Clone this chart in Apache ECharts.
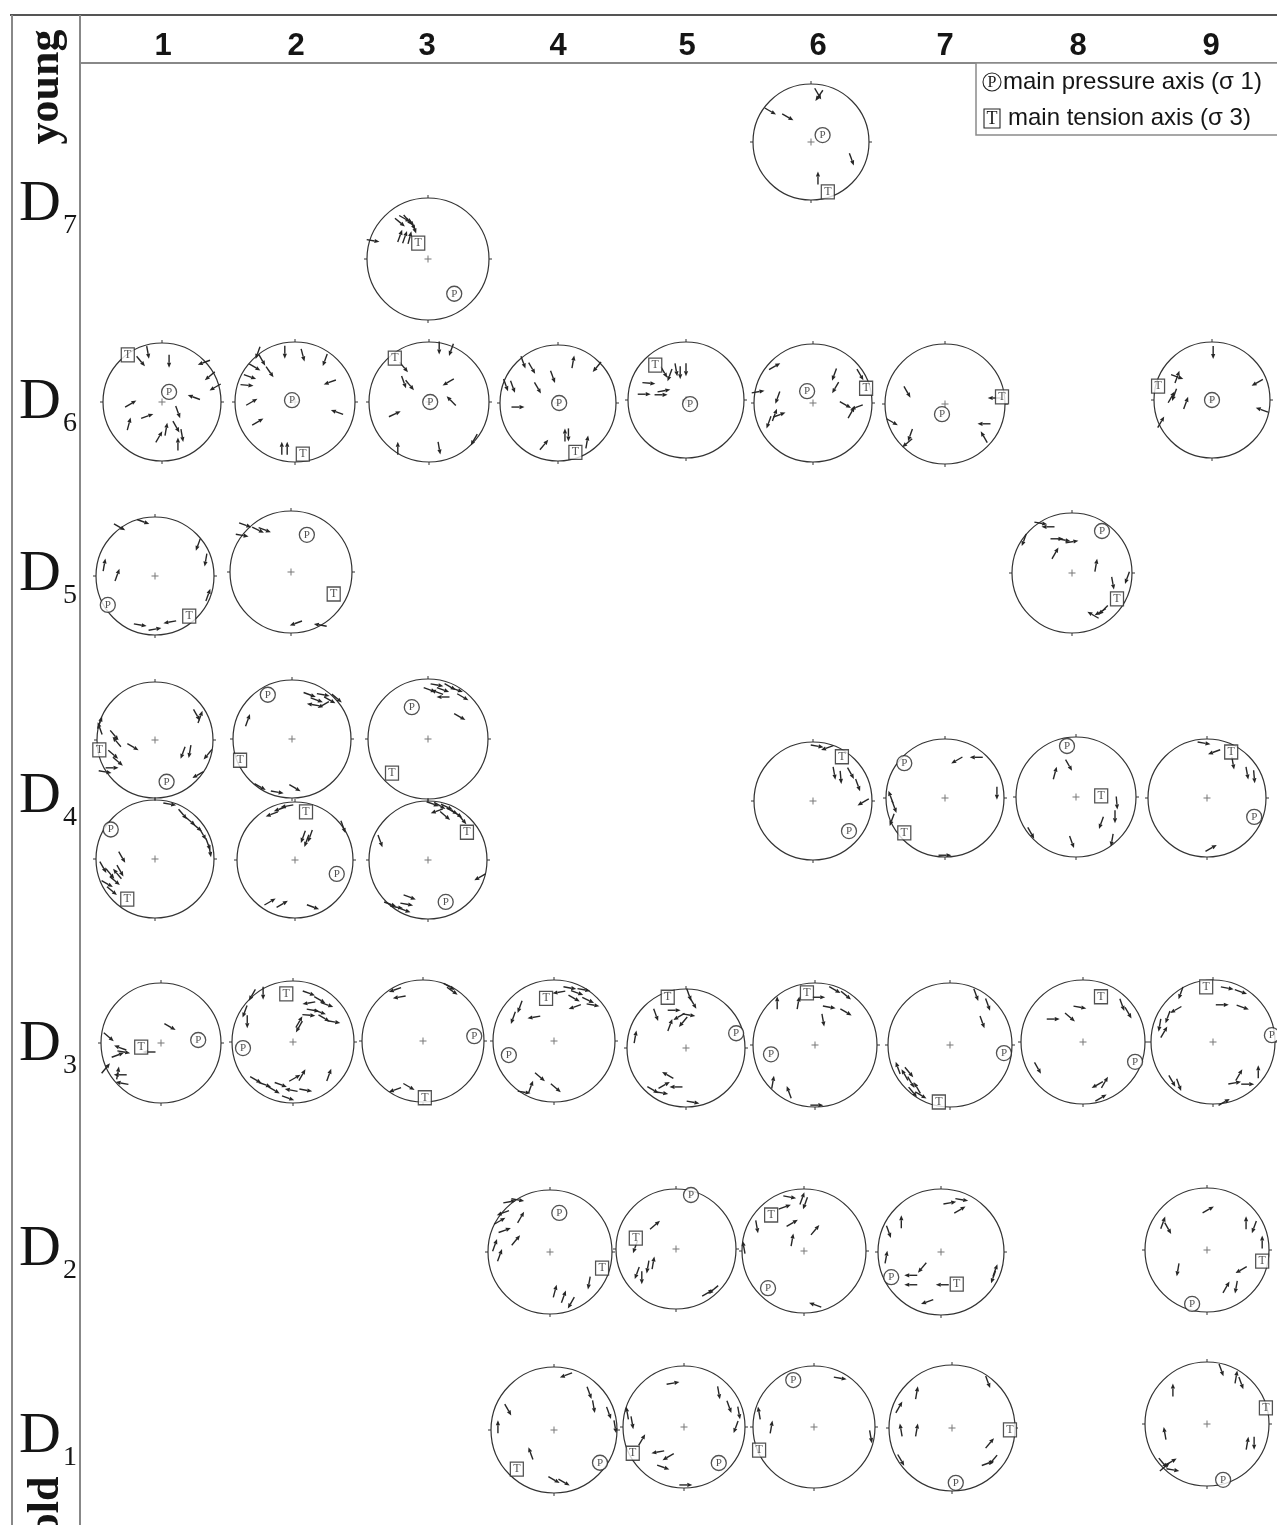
<!DOCTYPE html>
<html>
<head>
<meta charset="utf-8">
<title>Fault-slip stereonets by site and deformation phase</title>
<script src="https://cdn.jsdelivr.net/npm/echarts@6/dist/echarts.min.js"></script>
<style>
  html, body { margin: 0; padding: 0; background: #fff; }
  #chart { width: 1277px; height: 1525px; }
</style>
</head>
<body>
<div id="chart"></div>
<script>
// ---- data ----
const columnLabels = ['1', '2', '3', '4', '5', '6', '7', '8', '9'];
const phaseLabels = ['D7', 'D6', 'D5', 'D4', 'D3', 'D2', 'D1'];
const ageLabels = ['young', 'old'];
const legendLabels = ['main pressure axis (σ 1)', 'main tension axis (σ 3)'];

// site (column) and phase of every stereonet
const netColumn = [6, 3, 1, 2, 3, 4, 5, 6, 7, 9, 1, 2, 8, 1, 2, 3, 1, 2, 3, 6, 7, 8, 9,
  1, 2, 3, 4, 5, 6, 7, 8, 9, 4, 5, 6, 7, 9, 4, 5, 6, 7, 9];
const netPhase = ['D7', 'D7', 'D6', 'D6', 'D6', 'D6', 'D6', 'D6', 'D6', 'D6', 'D5', 'D5', 'D5',
  'D4', 'D4', 'D4', 'D4', 'D4', 'D4', 'D4', 'D4', 'D4', 'D4',
  'D3', 'D3', 'D3', 'D3', 'D3', 'D3', 'D3', 'D3', 'D3',
  'D2', 'D2', 'D2', 'D2', 'D2', 'D1', 'D1', 'D1', 'D1', 'D1'];

// P (sigma 1) and T (sigma 3) axes, as [east, north] in net radii
const pAxes = [[0.2, 0.12], [0.43, -0.57], [0.12, 0.17], [-0.05, 0.03], [0.02, 0], [0.02, 0],
  [0.07, -0.07], [-0.1, 0.2], [-0.05, -0.17], [0, 0], [-0.8, -0.49], [0.26, 0.61], [0.5, 0.7],
  [0.2, -0.72], [-0.41, 0.75], [-0.27, 0.53], [-0.75, 0.5], [0.72, -0.24], [0.3, -0.71],
  [0.61, -0.51], [-0.69, 0.59], [-0.15, 0.85], [0.8, -0.32], [0.62, 0.05], [-0.82, -0.1],
  [0.84, 0.08], [-0.74, -0.23], [0.85, 0.25], [-0.71, -0.15], [0.87, -0.13], [0.84, -0.32],
  [0.95, 0.11], [0.15, 0.63], [0.25, 0.9], [-0.58, -0.6], [-0.79, -0.4], [-0.24, -0.87],
  [0.73, -0.52], [0.57, -0.59], [-0.34, 0.77], [0.06, -0.87], [0.26, -0.9]];
const tAxes = [[0.29, -0.86], [-0.16, 0.26], [-0.58, 0.8], [0.13, -0.87], [-0.57, 0.73],
  [0.3, -0.85], [-0.53, 0.6], [0.9, 0.25], [0.95, 0.12], [-0.93, 0.24], [0.58, -0.68],
  [0.7, -0.36], [0.75, -0.43], [-0.96, -0.17], [-0.88, -0.36], [-0.6, -0.57], [-0.47, -0.68],
  [0.19, 0.83], [0.66, 0.47], [0.49, 0.75], [-0.69, -0.59], [0.42, 0.02], [0.41, 0.78],
  [-0.33, -0.07], [-0.11, 0.79], [0.03, -0.93], [-0.13, 0.7], [-0.31, 0.86], [-0.13, 0.84],
  [-0.18, -0.92], [0.29, 0.73], [-0.11, 0.89], [0.84, -0.26], [-0.67, 0.18], [-0.53, 0.58],
  [0.25, -0.51], [0.89, -0.18], [-0.59, -0.62], [-0.84, -0.43], [-0.9, -0.38], [0.92, -0.03],
  [0.95, 0.26]];

// slip vectors: [east, north, slip direction in degrees from north]
const slipArrows = [
  [[-0.7, 0.53, 120], [-0.4, 0.43, 120], [0.12, 0.83, 150], [0.14, 0.8, 215], [0.7, -0.3, 160], [0.12, -0.62, 0]],
  [[-0.46, 0.6, 130], [-0.33, 0.64, 140], [-0.26, 0.57, 150], [-0.23, 0.52, 160], [-0.38, 0.66, 120], [-0.46, 0.38, 20], [-0.38, 0.36, 20], [-0.3, 0.35, 15], [-0.9, 0.3, 100]],
  [[-0.36, 0.69, 140], [-0.24, 0.84, 170], [0.12, 0.69, 180], [0.71, 0.67, 250], [0.81, 0.44, 230], [0.9, 0.25, 240], [0.54, 0.08, 290], [-0.53, -0.03, 60], [-0.56, -0.37, 15], [-0.25, -0.24, 70], [0.27, -0.17, 160], [-0.05, -0.59, 30], [0.07, -0.46, 10], [0.24, -0.42, 150], [0.34, -0.57, 170], [0.27, -0.71, 0]],
  [[-0.62, 0.82, 200], [-0.55, 0.7, 150], [-0.42, 0.5, 145], [-0.67, 0.58, 120], [-0.75, 0.42, 110], [-0.8, 0.28, 95], [-0.17, 0.83, 180], [0.13, 0.78, 165], [0.5, 0.7, 200], [0.58, 0.33, 250], [0.7, -0.17, 290], [-0.72, 0, 60], [-0.62, -0.33, 60], [-0.22, -0.77, 0], [-0.13, -0.77, 0]],
  [[0.17, 0.9, 180], [0.37, 0.87, 200], [-0.42, 0.58, 140], [-0.42, 0.33, 160], [-0.32, 0.28, 140], [0.32, 0.33, 240], [0.37, 0.02, 315], [-0.57, -0.2, 65], [-0.52, -0.77, 0], [0.17, -0.77, 170], [0.75, -0.63, 210]],
  [[-0.9, 0.31, 160], [-0.78, 0.28, 160], [-0.6, 0.7, 160], [-0.45, 0.6, 150], [-0.35, 0.26, 150], [-0.09, 0.45, 160], [0.26, 0.71, 10], [0.67, 0.62, 220], [-0.69, -0.07, 90], [-0.24, -0.72, 40], [0.12, -0.55, 0], [0.18, -0.55, 180], [0.5, -0.67, 10]],
  [[-0.38, 0.48, 150], [-0.17, 0.52, 170], [-0.1, 0.47, 180], [0, 0.52, 180], [-0.28, 0.43, 200], [-0.64, 0.29, 95], [-0.72, 0.1, 90], [-0.43, 0.09, 90], [-0.38, 0.16, 80]],
  [[-0.65, 0.62, 60], [-0.93, 0.19, 80], [-0.6, 0.09, 200], [-0.65, -0.2, 20], [-0.75, -0.33, 200], [-0.57, -0.2, 70], [0.36, 0.48, 200], [0.38, 0.26, 210], [0.8, 0.48, 150], [0.55, -0.03, 120], [0.74, -0.07, 250], [0.65, -0.16, 30]],
  [[-0.63, 0.2, 150], [0.82, 0.1, 270], [-0.88, -0.3, 120], [-0.58, -0.52, 200], [-0.63, -0.65, 230], [0.65, -0.33, 270], [0.65, -0.55, 330]],
  [[0.02, 0.82, 180], [-0.6, 0.4, 20], [-0.6, 0.4, 110], [-0.65, 0.09, 200], [-0.7, 0.05, 30], [-0.45, -0.05, 20], [-0.88, -0.38, 30], [0.78, 0.3, 240], [0.86, -0.17, 290]],
  [[-0.6, 0.83, 120], [-0.2, 0.92, 110], [-0.86, 0.19, 10], [-0.64, 0.02, 20], [0.73, 0.53, 200], [0.86, 0.27, 190], [-0.25, -0.83, 100], [0, -0.9, 80], [0.25, -0.78, 260], [0.9, -0.32, 20]],
  [[-0.75, 0.77, 110], [-0.54, 0.69, 115], [-0.43, 0.69, 110], [-0.8, 0.6, 100], [0.08, -0.84, 250], [0.48, -0.87, 280]],
  [[-0.52, 0.83, 100], [-0.4, 0.77, 270], [-0.8, 0.55, 200], [-0.25, 0.57, 90], [-0.13, 0.55, 100], [0, 0.52, 80], [-0.28, 0.33, 30], [0.4, 0.13, 10], [0.92, -0.08, 200], [0.68, -0.17, 170], [0.47, -0.65, 240], [0.35, -0.7, 300], [0.52, -0.62, 225]],
  [[-0.95, 0.3, 20], [-0.95, 0.2, 340], [-0.7, 0.08, 140], [-0.66, -0.03, 320], [-0.38, -0.12, 120], [-0.72, -0.25, 130], [-0.64, -0.37, 130], [-0.74, -0.48, 90], [-0.86, -0.55, 100], [0.72, 0.43, 150], [0.78, 0.4, 20], [0.48, -0.22, 200], [0.6, -0.2, 190], [0.91, -0.25, 220], [0.74, -0.6, 240]],
  [[0.3, 0.75, 110], [0.42, 0.66, 110], [0.53, 0.75, 100], [0.64, 0.66, 120], [0.36, 0.58, 280], [0.53, 0.58, 240], [0.76, 0.69, 130], [-0.75, 0.32, 20], [-0.54, -0.81, 120], [-0.25, -0.9, 100], [0.05, -0.83, 120]],
  [[0.03, 0.82, 110], [0.15, 0.9, 100], [0.25, 0.82, 110], [0.37, 0.87, 120], [0.48, 0.82, 110], [0.25, 0.7, 270], [0.15, 0.78, 290], [0.58, 0.7, 120], [0.53, 0.37, 120]],
  [[0.25, 0.93, 100], [0.47, 0.76, 140], [0.6, 0.64, 130], [0.71, 0.54, 130], [0.81, 0.42, 150], [0.9, 0.25, 160], [0.93, 0.14, 170], [-0.88, -0.14, 150], [-0.76, -0.25, 140], [-0.68, -0.37, 130], [-0.81, -0.42, 120], [-0.59, -0.2, 150], [-0.56, 0.03, 150], [-0.73, -0.54, 130], [-0.64, -0.25, 320]],
  [[-0.4, 0.79, 250], [-0.26, 0.88, 250], [-0.14, 0.93, 260], [0.14, 0.4, 200], [0.2, 0.33, 200], [0.26, 0.41, 200], [0.83, 0.57, 160], [-0.43, -0.72, 60], [-0.22, -0.76, 60], [0.31, -0.81, 110]],
  [[0.08, 0.95, 110], [0.2, 0.92, 120], [0.32, 0.9, 115], [0.41, 0.83, 120], [0.49, 0.78, 125], [0.15, 0.83, 250], [0.29, 0.75, 130], [0.58, 0.69, 140], [-0.81, 0.32, 160], [-0.64, -0.75, 110], [-0.53, -0.8, 100], [-0.36, -0.75, 100], [-0.31, -0.63, 110], [-0.4, -0.85, 110], [0.88, -0.29, 240]],
  [[0.07, 0.93, 100], [0.24, 0.9, 250], [0.36, 0.47, 170], [0.47, 0.4, 175], [0.64, 0.47, 150], [0.76, 0.27, 160], [0.85, -0.02, 240]],
  [[0.2, 0.64, 240], [0.53, 0.69, 270], [0.88, 0.08, 180], [-0.92, 0.02, 340], [-0.86, -0.15, 160], [-0.9, -0.37, 200], [0, -0.97, 90]],
  [[-0.12, 0.53, 150], [-0.35, 0.4, 15], [0.68, -0.1, 175], [0.65, -0.33, 180], [0.42, -0.43, 200], [0.6, -0.72, 190], [-0.07, -0.75, 160], [-0.75, -0.6, 150]],
  [[-0.05, 0.93, 100], [0.12, 0.78, 250], [0.44, 0.59, 170], [0.68, 0.42, 170], [0.8, 0.36, 175], [0.07, -0.85, 60]],
  [[-0.87, 0.1, 130], [0.15, 0.27, 120], [-0.68, -0.08, 290], [-0.72, -0.2, 70], [-0.62, -0.15, 100], [-0.2, -0.15, 270], [-0.92, -0.42, 40], [-0.68, -0.53, 270], [-0.65, -0.67, 280], [-0.72, -0.5, 10]],
  [[-0.67, 0.77, 210], [-0.49, 0.8, 180], [-0.79, 0.5, 200], [-0.75, 0.33, 180], [0.26, 0.8, 110], [0.44, 0.69, 120], [0.26, 0.64, 260], [0.56, 0.61, 110], [0.33, 0.52, 100], [0.44, 0.49, 110], [0.26, 0.44, 95], [0.51, 0.39, 120], [0.67, 0.33, 100], [0.1, 0.33, 30], [0.1, 0.25, 210], [-0.61, -0.62, 120], [-0.46, -0.7, 110], [-0.31, -0.79, 120], [-0.2, -0.7, 110], [0.03, -0.59, 60], [0.15, -0.54, 30], [0.21, -0.79, 100], [-0.03, -0.79, 280], [0.59, -0.54, 20], [-0.08, -0.92, 110]],
  [[-0.46, 0.84, 250], [-0.39, 0.72, 260], [0.43, 0.89, 120], [0.48, 0.82, 125], [-0.23, -0.75, 120], [-0.46, -0.8, 250]],
  [[0.26, 0.87, 100], [0.38, 0.79, 110], [0.49, 0.84, 100], [0.33, 0.7, 120], [0.56, 0.67, 115], [0.64, 0.59, 100], [0.34, 0.56, 250], [0.08, 0.8, 260], [-0.33, 0.39, 260], [-0.56, 0.56, 200], [-0.67, 0.38, 200], [-0.23, -0.59, 130], [0.03, -0.77, 130], [-0.49, -0.84, 100], [-0.38, -0.75, 20]],
  [[0.05, 0.9, 160], [0.12, 0.76, 150], [-0.2, 0.64, 90], [-0.51, 0.56, 160], [-0.12, 0.53, 240], [0.05, 0.56, 100], [-0.27, 0.39, 20], [-0.05, 0.44, 220], [-0.86, 0.19, 10], [-0.31, -0.46, 300], [-0.37, -0.63, 60], [-0.17, -0.66, 270], [-0.56, -0.71, 120], [-0.41, -0.76, 100], [0.12, -0.92, 100]],
  [[0.32, 0.89, 120], [0.5, 0.8, 130], [0.06, 0.77, 90], [0.23, 0.61, 100], [0.5, 0.53, 120], [-0.27, 0.68, 10], [-0.61, 0.68, 0], [0.13, 0.4, 170], [-0.68, -0.6, 10], [-0.42, -0.76, 340], [0.03, -0.97, 90]],
  [[0.42, 0.81, 160], [0.61, 0.65, 160], [0.52, 0.37, 160], [-0.84, -0.37, 340], [-0.73, -0.48, 330], [-0.63, -0.6, 150], [-0.66, -0.44, 140], [-0.53, -0.69, 330], [-0.47, -0.81, 120], [-0.6, -0.76, 140]],
  [[-0.05, 0.56, 100], [-0.48, 0.37, 90], [-0.21, 0.4, 130], [0.63, 0.6, 160], [0.73, 0.47, 150], [-0.73, -0.42, 150], [0.23, -0.69, 240], [0.35, -0.65, 30], [0.29, -0.9, 60]],
  [[0.23, 0.87, 100], [0.45, 0.81, 110], [0.15, 0.6, 90], [0.48, 0.56, 110], [-0.52, 0.79, 200], [-0.6, 0.52, 240], [-0.73, 0.4, 200], [-0.86, 0.27, 190], [-0.79, 0.16, 30], [-0.66, -0.63, 150], [-0.55, -0.69, 160], [0.35, -0.66, 80], [0.56, -0.68, 90], [0.42, -0.53, 30], [0.73, -0.48, 0], [0.18, -0.97, 60]],
  [[-0.65, 0.81, 80], [-0.52, 0.84, 100], [-0.76, 0.63, 250], [-0.81, 0.5, 60], [-0.73, 0.35, 70], [-0.55, 0.19, 40], [-0.89, 0.11, 20], [-0.81, -0.05, 20], [-0.47, 0.56, 30], [0.08, -0.63, 15], [0.22, -0.72, 20], [0.34, -0.82, 210], [0.63, -0.5, 190]],
  [[-0.35, 0.4, 50], [-0.68, 0.03, 200], [-0.65, -0.4, 200], [-0.57, -0.48, 180], [-0.47, -0.3, 190], [-0.38, -0.23, 10], [0.53, -0.73, 60], [0.62, -0.68, 230]],
  [[-0.23, 0.87, 100], [-0.03, 0.85, 20], [0.02, 0.77, 200], [-0.31, 0.71, 70], [-0.19, 0.45, 60], [0.18, 0.34, 40], [-0.19, 0.18, 10], [-0.76, 0.39, 170], [-0.97, 0.06, 350], [0.18, -0.87, 290]],
  [[0.14, 0.78, 80], [0.33, 0.83, 100], [0.3, 0.67, 60], [-0.63, 0.48, 0], [-0.83, 0.32, 160], [-0.87, -0.08, 10], [-0.48, -0.37, 270], [-0.3, -0.25, 220], [-0.48, -0.52, 270], [0.02, -0.52, 270], [-0.22, -0.79, 250], [0.86, -0.29, 20], [0.83, -0.4, 200]],
  [[0.02, 0.65, 60], [-0.71, 0.44, 20], [-0.63, 0.35, 150], [0.63, 0.44, 0], [0.76, 0.37, 200], [0.89, 0.13, 0], [0.55, -0.32, 240], [0.31, -0.6, 30], [0.47, -0.6, 190], [-0.47, -0.32, 190]],
  [[0.19, 0.87, 250], [0.56, 0.59, 160], [0.63, 0.37, 170], [0.87, 0.27, 160], [0.97, 0.05, 170], [-0.73, 0.32, 150], [-0.89, 0.05, 0], [-0.37, -0.37, 340], [0, -0.79, 120], [0.16, -0.83, 120]],
  [[-0.18, 0.72, 80], [0.57, 0.56, 170], [0.74, 0.33, 160], [0.9, 0.23, 170], [0.85, 0, 200], [-0.93, 0.23, 350], [-0.85, 0.07, 170], [-0.69, -0.21, 30], [-0.43, -0.41, 260], [-0.26, -0.49, 240], [-0.34, -0.66, 110], [0.03, -0.95, 90]],
  [[0.43, 0.8, 100], [-0.9, 0.23, 350], [-0.7, 0, 10], [0.93, -0.16, 170]],
  [[0.57, 0.73, 160], [-0.56, 0.56, 10], [-0.84, 0.33, 30], [-0.81, -0.03, 350], [-0.56, -0.03, 10], [-0.81, -0.51, 150], [0.6, -0.24, 40], [0.65, -0.51, 220], [0.57, -0.56, 70]],
  [[0.23, 0.87, 160], [0.47, 0.76, 10], [0.55, 0.66, 160], [-0.55, 0.55, 0], [-0.68, -0.15, 350], [0.65, -0.31, 10], [0.76, -0.31, 180], [-0.68, -0.69, 50], [-0.55, -0.74, 100], [-0.71, -0.63, 140], [-0.58, -0.61, 60]]
];

// ---- layout (pixels) ----
const columnX = [163, 296, 427, 558, 687, 818, 945, 1078, 1211];
const phaseLabelY = [205, 403, 575, 797, 1045, 1250, 1437];
// centre x, centre y, radius of each net frame
const netFrames = [[811, 142, 58], [428, 259, 61],
  [162, 402, 59], [295, 402, 60], [429, 402, 60], [558, 403, 58], [686, 400, 58], [813, 403, 59], [945, 404, 60], [1212, 400, 58],
  [155, 576, 59], [291, 572, 61], [1072, 573, 60],
  [155, 740, 58], [292, 739, 59], [428, 739, 60], [155, 859, 59], [295, 860, 58], [428, 860, 59],
  [813, 801, 59], [945, 798, 59], [1076, 797, 60], [1207, 798, 59],
  [161, 1043, 60], [293, 1042, 61], [423, 1041, 61], [554, 1041, 61], [686, 1048, 59], [815, 1045, 62], [950, 1045, 62], [1083, 1042, 62], [1213, 1042, 62],
  [550, 1252, 62], [676, 1249, 60], [804, 1251, 62], [941, 1252, 63], [1207, 1250, 62],
  [554, 1430, 63], [684, 1427, 61], [814, 1427, 61], [952, 1428, 63], [1207, 1424, 62]];

const INK = '#262626';
const SERIF = '"Liberation Serif", "DejaVu Serif", serif';
const SANS = '"Liberation Sans", Arial, sans-serif';
const ARROW_LEN = 13;
const HEAD_LEN = 5;

// [east, north] -> [radius, azimuth] for the polar net
const toPolar = (x, y) => {
  let az = Math.atan2(x, y) * 180 / Math.PI;
  if (az < 0) az += 360;
  return [Math.hypot(x, y), az];
};

const renderSlip = (params, api) => {
  const p = api.coord([api.value(0), api.value(1)]);
  const a = api.value(2) * Math.PI / 180;
  const ux = Math.sin(a), uy = -Math.cos(a);
  const h = ARROW_LEN / 2;
  const x0 = p[0] - ux * h, y0 = p[1] - uy * h;
  const x1 = p[0] + ux * h, y1 = p[1] + uy * h;
  const hx = x1 - ux * HEAD_LEN, hy = y1 - uy * HEAD_LEN;
  const nx = -uy * 2.1, ny = ux * 2.1;
  return {
    type: 'group',
    children: [
      { type: 'line', shape: { x1: x0, y1: y0, x2: hx, y2: hy }, style: { stroke: INK, lineWidth: 1.4 } },
      { type: 'polygon', shape: { points: [[x1, y1], [hx + nx, hy + ny], [hx - nx, hy - ny]] }, style: { fill: INK } }
    ]
  };
};

const chart = echarts.init(document.getElementById('chart'));

const polar = netFrames.map(([cx, cy, r]) => ({ center: [cx, cy], radius: r }));
const angleAxis = netFrames.map((f, i) => ({
  polarIndex: i, type: 'value', min: 0, max: 360, interval: 90,
  startAngle: 90, clockwise: true,
  axisLine: { lineStyle: { color: '#333', width: 1.2 } },
  axisTick: { show: true, length: 3, lineStyle: { color: '#333', width: 1 } },
  axisLabel: { show: false }, splitLine: { show: false }
}));
const radiusAxis = netFrames.map((f, i) => ({
  polarIndex: i, type: 'value', min: 0, max: 1, show: false,
  axisLine: { show: false }, axisTick: { show: false }, axisLabel: { show: false }, splitLine: { show: false }
}));

const series = [];
netFrames.forEach((f, i) => {
  const name = 'site ' + netColumn[i] + ' ' + netPhase[i];
  series.push({
    name: name + ' centre', type: 'scatter', coordinateSystem: 'polar', polarIndex: i,
    data: [[0, 0]], symbol: 'path://M3,0h1v7h-1zM0,3h7v1h-7z', symbolSize: 7,
    itemStyle: { color: '#555' }, silent: true, z: 2
  });
  series.push({
    name: name + ' slip', type: 'custom', coordinateSystem: 'polar', polarIndex: i,
    encode: { radius: 0, angle: 1 },
    data: slipArrows[i].map(([x, y, d]) => [...toPolar(x, y), d]),
    renderItem: renderSlip, silent: true, z: 3
  });
  series.push({
    name: legendLabels[0], type: 'scatter', coordinateSystem: 'polar', polarIndex: i,
    data: [toPolar(...pAxes[i])], symbol: 'circle', symbolSize: 15,
    itemStyle: { color: '#fff', borderColor: INK, borderWidth: 1.3 },
    label: { show: true, position: 'inside', formatter: 'P', fontFamily: SERIF, fontSize: 11, color: INK },
    silent: true, z: 4
  });
  series.push({
    name: legendLabels[1], type: 'scatter', coordinateSystem: 'polar', polarIndex: i,
    data: [toPolar(...tAxes[i])], symbol: 'rect', symbolSize: [13, 14],
    itemStyle: { color: '#fff', borderColor: INK, borderWidth: 1.3 },
    label: { show: true, position: 'inside', formatter: 'T', fontFamily: SERIF, fontSize: 12, color: INK },
    silent: true, z: 4
  });
});

const txt = (x, y, text, font, extra) => Object.assign({
  type: 'text', x, y,
  style: { text, font, fill: '#151515', textAlign: 'center', align: 'center', textVerticalAlign: 'middle', verticalAlign: 'middle' }
}, extra || {});
const leftTxt = (x, y, text, font) => ({
  type: 'text', x, y,
  style: { text, font, fill: '#151515', textAlign: 'left', align: 'left', textVerticalAlign: 'middle', verticalAlign: 'middle' }
});

const graphic = [
  { type: 'line', shape: { x1: 10, y1: 15, x2: 1277, y2: 15 }, style: { stroke: '#555', lineWidth: 2 } },
  { type: 'line', shape: { x1: 12, y1: 15, x2: 12, y2: 1525 }, style: { stroke: '#888', lineWidth: 2 } },
  { type: 'line', shape: { x1: 80, y1: 15, x2: 80, y2: 1525 }, style: { stroke: '#888', lineWidth: 2 } },
  { type: 'line', shape: { x1: 80, y1: 63, x2: 1277, y2: 63 }, style: { stroke: '#888', lineWidth: 2 } },
  // legend
  { type: 'rect', shape: { x: 976, y: 63, width: 320, height: 72 }, style: { fill: '#fff', stroke: '#8a8a8a', lineWidth: 1.5 } },
  { type: 'circle', shape: { cx: 992, cy: 82, r: 9 }, style: { fill: '#fff', stroke: INK, lineWidth: 1.1 } },
  txt(992, 83, 'P', '16px ' + SERIF),
  { type: 'rect', shape: { x: 984, y: 109, width: 16, height: 19 }, style: { fill: '#fff', stroke: INK, lineWidth: 1.1 } },
  txt(992, 119, 'T', '18px ' + SERIF),
  leftTxt(1003, 82, legendLabels[0], '24px ' + SANS),
  leftTxt(1008, 118, legendLabels[1], '24px ' + SANS),
  // young / old
  txt(47, 87, ageLabels[0], 'bold 44px ' + SERIF, { rotation: Math.PI / 2 }),
  txt(47, 1506, ageLabels[1], 'bold 44px ' + SERIF, { rotation: Math.PI / 2 })
];
columnLabels.forEach((c, i) => graphic.push(txt(columnX[i], 46, c, 'bold 31px ' + SANS)));
phaseLabels.forEach((p, i) => {
  graphic.push(leftTxt(19, phaseLabelY[i], p.charAt(0), '58px ' + SERIF));
  graphic.push(leftTxt(63, phaseLabelY[i] + 21, p.slice(1), '28px ' + SERIF));
});

chart.setOption({
  animation: false,
  backgroundColor: '#fff',
  polar, angleAxis, radiusAxis, series, graphic
});
</script>
</body>
</html>
